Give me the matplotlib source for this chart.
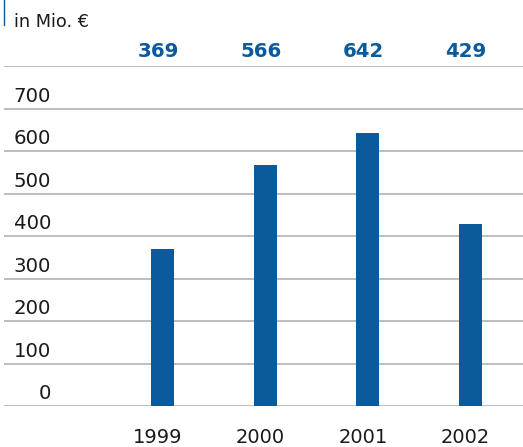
import matplotlib
matplotlib.use("Agg")
import matplotlib.pyplot as plt

years = ["1999", "2000", "2001", "2002"]
values = [369, 566, 642, 429]
grid_values = [0, 100, 200, 300, 400, 500, 600, 700, 800]
tick_labels = ["0", "100", "200", "300", "400", "500", "600", "700"]
unit_label = "in Mio. €"

BLUE = "#0b5a9b"
GRID = "#bdbdbd"
W, H = 523, 447

plt.rcParams["font.family"] = ["DejaVu Sans"]

fig = plt.figure(figsize=(W / 100, H / 100), dpi=100)
# axes box in pixel terms: x 4..523, y 66..406 (top..bottom)
ax = fig.add_axes([4 / W, (H - 406) / H, (W - 4) / W, (406 - 66) / H])
ax.set_axis_off()

step = 102.7
x0 = 162.5
ax.set_xlim((4 - x0) / step, (W - x0) / step)
ax.set_ylim(0, 800)

# horizontal rules
for g in grid_values:
    ax.axhline(g, color=GRID, lw=1.4, zorder=1)

xs = list(range(len(years)))
ax.bar(xs, values, width=23 / step, color=BLUE, zorder=2)

# value labels above the top rule
for x, v in zip(xs, values):
    ax.text(x - 4.5 / step, 833, f"{v}", ha="center", va="center",
            color=BLUE, fontsize=14.2, fontweight="bold", clip_on=False)

# y labels sit in the band just above each rule
lab_x = (51 - x0) / step
for t in tick_labels:
    ax.text(lab_x, float(t) + 29, t, ha="right", va="center",
            color="#1a1a1a", fontsize=14.2)

# year labels under the baseline
for x, y in zip(xs, years):
    ax.text(x - 5 / step, -73, y, ha="center", va="center",
            color="#1a1a1a", fontsize=14, clip_on=False)

# unit caption with a small marker line
fig.text(14 / W, 1 - 22 / H, unit_label, ha="left", va="center",
         color="#1a1a1a", fontsize=12.8)
fig.add_artist(plt.Line2D([4 / W, 4 / W], [1 - 25 / H, 1.0],
                          color=BLUE, lw=1.0, transform=fig.transFigure))

fig.savefig("out.png", dpi=100)
